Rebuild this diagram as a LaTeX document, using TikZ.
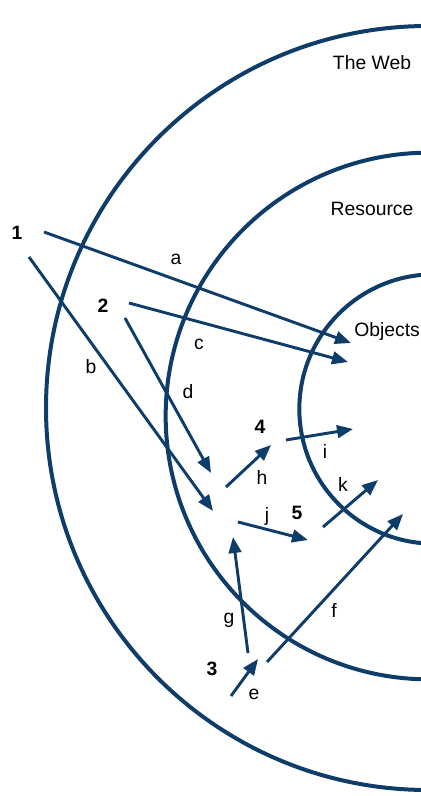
\documentclass[tikz,border=0pt]{standalone}
\usepackage{fontspec}
\setmainfont{Liberation Sans}
\usetikzlibrary{arrows.meta}

\begin{document}
\begin{tikzpicture}[x=0.75pt, y=-0.75pt,
  ring/.style={line width=3pt, draw=webblue},
  flow/.style={line width=2.2pt, draw=webblue, -{Triangle[length=12pt, width=9.5pt]}},
  tag/.style={font=\fontsize{14.5}{17}\selectfont, inner sep=0pt},
  num/.style={font=\fontsize{14.5}{17}\selectfont\bfseries, inner sep=0pt}]
% --- THREE SCOPES OF REFERENCE ---
\definecolor{webblue}{HTML}{0F3D69}
\useasboundingbox (0,0) rectangle (421,796);
\clip (0,0) rectangle (421,796);

% LAYER 1: The rings
\draw[ring] (428,408) circle (286.5pt);
\draw[ring] (429,416) circle (197.5pt);
\draw[ring] (434,409) circle (101pt);
\node[tag] (web) at (372,63) {The Web};
\node[tag] (res) at (372,209) {Resource};
\node[tag, anchor=west] (obj) at (354,331) {Objects};

% LAYER 2: Starting points
\node[num] (n1) at (17,233) {1};
\node[num] (n2) at (103,306) {2};
\node[num] (n3) at (212,669) {3};
\node[num] (n4) at (260,427) {4};
\node[num] (n5) at (297,513) {5};

% LAYER 3: Arrow ends
\coordinate (a0) at (44,232);  \coordinate (a1) at (351,343);
\coordinate (b0) at (29,257);  \coordinate (b1) at (213,511);
\coordinate (c0) at (129,303); \coordinate (c1) at (348,362);
\coordinate (d0) at (125,318); \coordinate (d1) at (211,473);
\coordinate (e0) at (231,696); \coordinate (e1) at (258,659);
\coordinate (f0) at (267,662); \coordinate (f1) at (403,514);
\coordinate (g0) at (248,653); \coordinate (g1) at (233,537);
\coordinate (h0) at (226,487); \coordinate (h1) at (271,445);
\coordinate (i0) at (286,440); \coordinate (i1) at (353,429);
\coordinate (j0) at (238,522); \coordinate (j1) at (308,540);
\coordinate (k0) at (323,527); \coordinate (k1) at (378,480);

% LAYER 4: Arrows and their letters
\draw[flow] (a0) -- (a1);
\draw[flow] (b0) -- (b1);
\draw[flow] (c0) -- (c1);
\draw[flow] (d0) -- (d1);
\draw[flow] (e0) -- (e1);
\draw[flow] (f0) -- (f1);
\draw[flow] (g0) -- (g1);
\draw[flow] (h0) -- (h1);
\draw[flow] (i0) -- (i1);
\draw[flow] (j0) -- (j1);
\draw[flow] (k0) -- (k1);
\node[tag] (la) at (176,259) {a};
\node[tag] (lb) at (91,367) {b};
\node[tag] (lc) at (199,344) {c};
\node[tag] (ld) at (188,392) {d};
\node[tag] (le) at (254,694) {e};
\node[tag] (lf) at (334,610) {f};
\node[tag] (lg) at (229,620) {g};
\node[tag] (lh) at (262,477) {h};
\node[tag] (li) at (325,451) {i};
\node[tag] (lj) at (267,516) {j};
\node[tag] (lk) at (343,484) {k};
\end{tikzpicture}
\end{document}
